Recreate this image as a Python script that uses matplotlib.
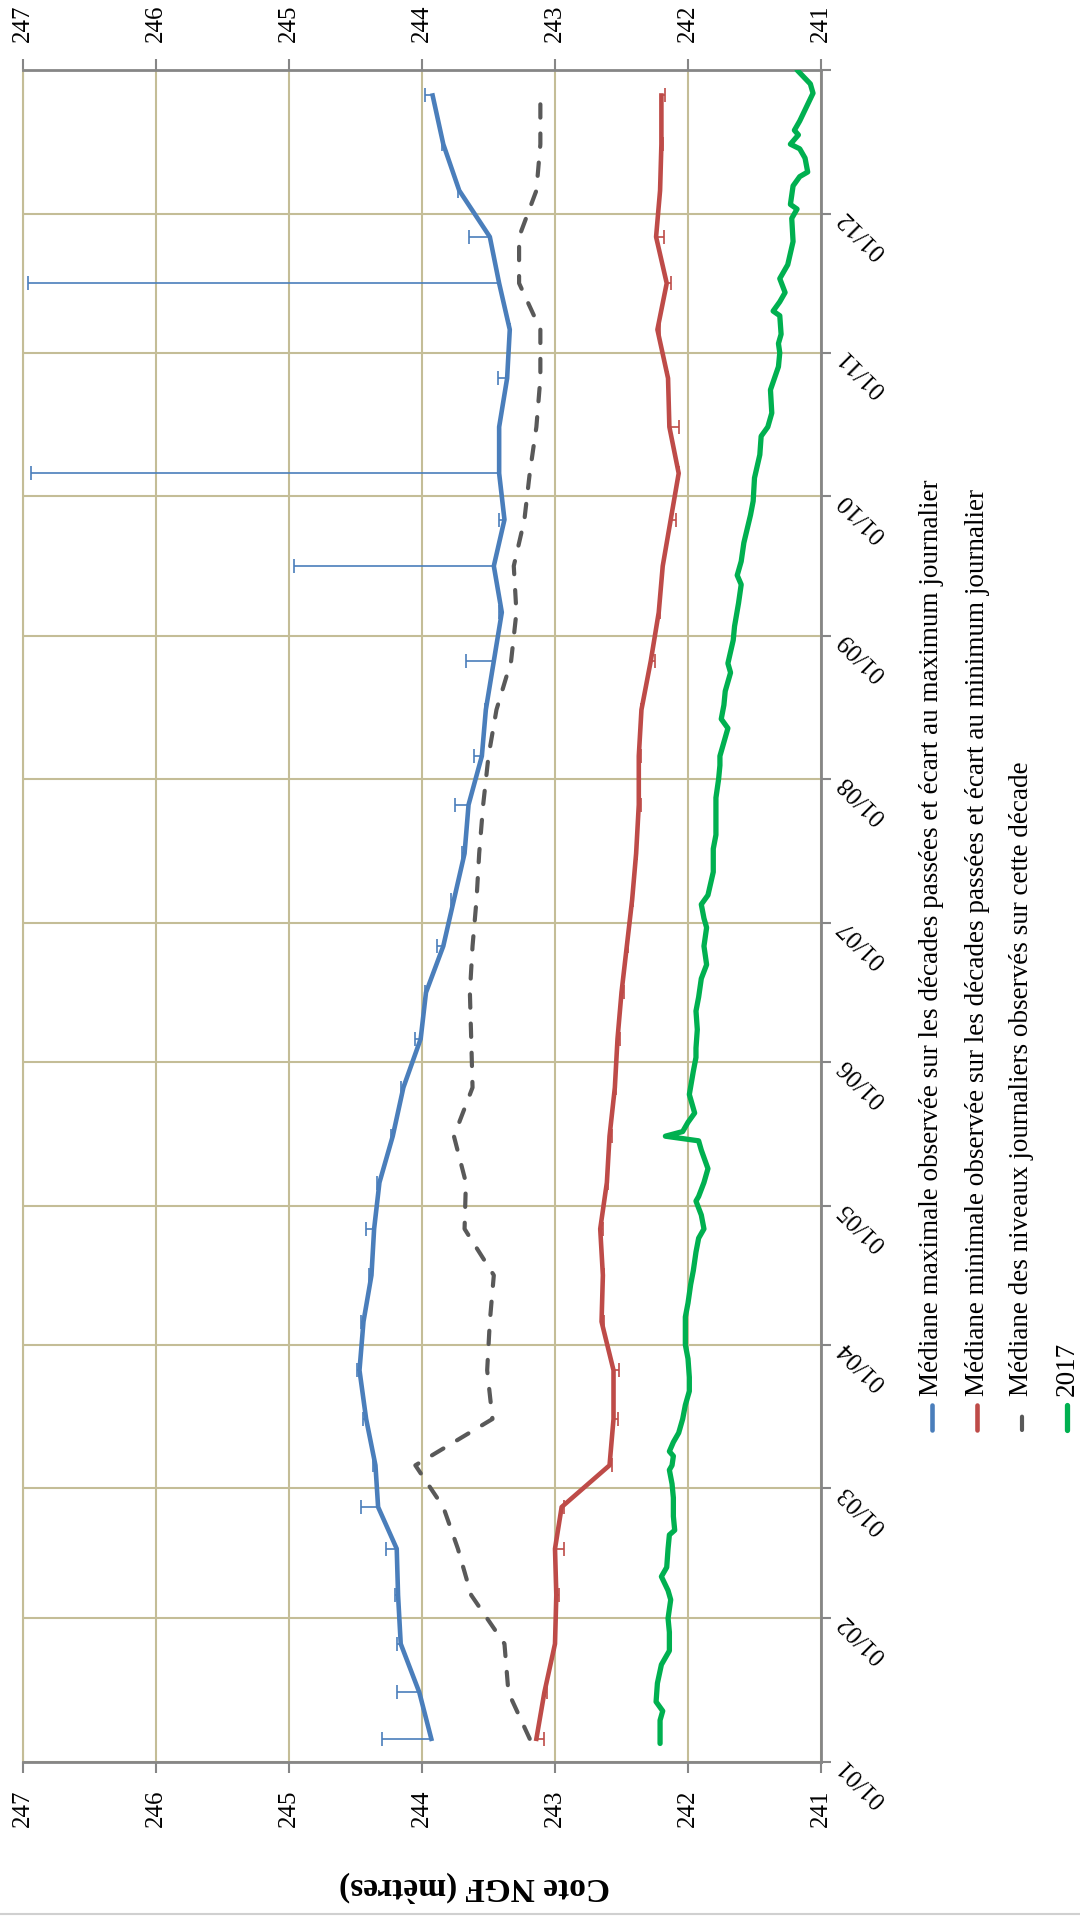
import numpy as np
import matplotlib.pyplot as plt
from matplotlib.lines import Line2D

# calendar (x axis of the original chart, drawn vertically here)
month_labels = ['01/01', '01/02', '01/03', '01/04', '01/05', '01/06',
                '01/07', '01/08', '01/09', '01/10', '01/11', '01/12']
month_lengths = [31, 28, 31, 30, 31, 30, 31, 31, 30, 31, 30, 31]

# decade medians (36 decades)
max_median = [243.93, 244.02, 244.16, 244.18, 244.19, 244.33, 244.35, 244.42, 244.47,
              244.44, 244.38, 244.36, 244.32, 244.22, 244.14, 244.01, 243.97, 243.84,
              243.76, 243.68, 243.65, 243.55, 243.52, 243.46, 243.40, 243.46, 243.38,
              243.42, 243.42, 243.36, 243.34, 243.42, 243.49, 243.72, 243.84, 243.92]
max_err = [0.37, 0.17, 0.03, 0.02, 0.08, 0.13, 0.02, 0.02, 0.02,
           0.02, 0.02, 0.06, 0.02, 0.01, 0.02, 0.04, 0.01, 0.05,
           0.02, 0.02, 0.10, 0.06, 0.01, 0.21, 0.02, 1.50, 0.04,
           3.52, 0.00, 0.07, 0.00, 3.54, 0.16, 0.01, 0.01, 0.06]
min_median = [243.14, 243.08, 243.00, 242.99, 243.00, 242.95, 242.59, 242.56, 242.56,
              242.65, 242.64, 242.66, 242.61, 242.59, 242.55, 242.53, 242.50, 242.46,
              242.42, 242.39, 242.37, 242.37, 242.35, 242.28, 242.22, 242.19, 242.13,
              242.07, 242.14, 242.15, 242.23, 242.16, 242.24, 242.21, 242.20, 242.20]
min_err = [0.06, 0.02, 0.00, 0.02, 0.07, 0.02, 0.02, 0.03, 0.04,
           0.02, 0.01, 0.02, 0.01, 0.02, 0.01, 0.02, 0.02, 0.01,
           0.01, 0.01, 0.02, 0.02, 0.00, 0.03, 0.01, 0.00, 0.04,
           0.00, 0.07, 0.00, 0.02, 0.03, 0.06, 0.00, 0.01, 0.03]
median = [243.19, 243.35, 243.38, 243.63, 243.73, 243.84, 244.05, 243.47, 243.51,
          243.49, 243.46, 243.68, 243.67, 243.76, 243.62, 243.63, 243.64, 243.62,
          243.59, 243.57, 243.54, 243.50, 243.44, 243.33, 243.29, 243.31, 243.23,
          243.19, 243.14, 243.11, 243.11, 243.27, 243.27, 243.14, 243.11, 243.11]

# 2017 daily levels (day of year, level)
days_2017 = [4, 6, 9, 11, 13, 17, 21, 24, 28, 31, 35, 37, 40, 42, 46, 49, 50, 53, 56,
             57, 60, 63, 64, 66, 67, 69, 71, 74, 77, 80, 83, 87, 90, 93, 96, 99, 103,
             106, 110, 113, 115, 118, 121, 122, 125, 128, 132, 134, 135, 136, 138, 140,
             144, 149, 152, 154, 158, 162, 165, 169, 172, 176, 180, 182, 185, 187, 192,
             197, 200, 205, 208, 212, 215, 217, 220, 223, 225, 228, 231, 235, 237, 242,
             245, 250, 254, 256, 259, 263, 269, 272, 277, 282, 286, 288, 291, 296, 301,
             304, 306, 308, 312, 313, 315, 317, 320, 323, 328, 333, 335, 336, 340, 342,
             343, 346, 348, 349, 351, 352, 354, 357, 360, 362, 365]
level_2017 = [242.21, 242.21, 242.21, 242.19, 242.24, 242.23, 242.20, 242.14, 242.14,
              242.15, 242.13, 242.15, 242.20, 242.16, 242.15, 242.14, 242.10, 242.11,
              242.11, 242.11, 242.12, 242.14, 242.12, 242.11, 242.14, 242.11, 242.07,
              242.04, 242.02, 241.99, 241.99, 242.00, 242.02, 242.02, 242.02, 242.00,
              241.98, 241.96, 241.94, 241.92, 241.88, 241.90, 241.94, 241.92, 241.88,
              241.85, 241.90, 241.92, 242.17, 242.04, 242.00, 241.95, 241.99, 241.96,
              241.94, 241.94, 241.93, 241.94, 241.92, 241.90, 241.86, 241.88, 241.86,
              241.88, 241.90, 241.85, 241.81, 241.81, 241.79, 241.79, 241.79, 241.77,
              241.76, 241.76, 241.73, 241.70, 241.75, 241.73, 241.72, 241.68, 241.70,
              241.66, 241.65, 241.62, 241.60, 241.63, 241.60, 241.58, 241.53, 241.51,
              241.50, 241.46, 241.45, 241.40, 241.37, 241.38, 241.32, 241.31, 241.32,
              241.30, 241.31, 241.36, 241.31, 241.27, 241.31, 241.25, 241.21, 241.22,
              241.18, 241.23, 241.21, 241.16, 241.10, 241.12, 241.16, 241.23, 241.17,
              241.20, 241.16, 241.11, 241.06, 241.08, 241.18]

legend_labels = ['Médiane maximale observée sur les décades passées et écart au maximum journalier',
                 'Médiane minimale observée sur les décades passées et écart au minimum journalier',
                 'Médiane des niveaux journaliers observés sur cette décade',
                 '2017']

blue = '#4a7ebb'
red = '#be4b48'
grey = '#595959'
green = '#00b050'
grid_col = '#c4bd97'
axis_col = '#868686'

plt.rcParams['font.family'] = ['Liberation Serif', 'DejaVu Serif']

month_starts = np.concatenate([[0], np.cumsum(month_lengths)[:-1]])
decade_days = np.array([s + o for s, n in zip(month_starts, month_lengths)
                        for o in (5, 15, 20 + (n - 20) / 2)])
zeros = np.zeros(len(decade_days))

W, H = 1080, 1916
fig = plt.figure(figsize=(W / 100, H / 100), dpi=100)
ax = fig.add_axes([23 / W, 154 / H, 798 / W, 1692 / H])


def one_sided(vals, err_lo, err_hi, color):
    eb = ax.errorbar(vals, decade_days, xerr=[err_lo, err_hi], fmt='none',
                     ecolor=color, elinewidth=1.2, capsize=5, capthick=1.2, zorder=2)
    # hide the caps sitting on the line itself
    for cap in eb[1]:
        if np.allclose(cap.get_xdata(), vals):
            cap.set_visible(False)


one_sided(max_median, zeros, max_err, blue)
ax.plot(max_median, decade_days, color=blue, lw=3.3, solid_joinstyle='round', zorder=3)
one_sided(min_median, min_err, zeros, red)
ax.plot(min_median, decade_days, color=red, lw=3.3, solid_joinstyle='round', zorder=3)
ax.plot(median, decade_days, color=grey, lw=3, dashes=(3.2, 3.8),
        dash_capstyle='round', zorder=3)
ax.plot(level_2017, days_2017, color=green, lw=3.8, solid_joinstyle='round',
        solid_capstyle='round', zorder=4)

ax.set_xlim(247, 241)
ax.set_ylim(0, 365)

ax.set_xticks(range(241, 248))
ax.set_xticklabels([str(v) for v in range(241, 248)])
ax.xaxis.set_ticks_position('both')
ax.tick_params(axis='x', top=True, bottom=True, labeltop=True, labelbottom=True,
               direction='out', length=8, width=1.5, color=axis_col,
               labelsize=18, pad=12, labelrotation=90)

ax.set_yticks(list(month_starts) + [365])
ax.set_yticklabels(month_labels + [''])
ax.yaxis.set_ticks_position('right')
ax.tick_params(axis='y', right=True, left=False, labelright=True, labelleft=False,
               direction='out', length=7, width=1.5, color=axis_col,
               labelsize=18, pad=8)
for lbl in ax.get_yticklabels():
    lbl.set_rotation(135)
    lbl.set_rotation_mode('anchor')
    lbl.set_ha('right')
    lbl.set_va('center')

ax.grid(True, color=grid_col, lw=1.5)
ax.set_axisbelow(True)
for side in ('top', 'bottom', 'right'):
    ax.spines[side].set_color(axis_col)
    ax.spines[side].set_linewidth(2)
ax.spines['left'].set_color(grid_col)
ax.spines['left'].set_linewidth(1.5)

fig.text(475 / W, 1 - 1887 / H, 'Cote NGF (mètres)', rotation=180,
         ha='center', va='center', fontsize=24, fontweight='bold')

# legend, turned with the chart
styles = [dict(color=blue, lw=3.3), dict(color=red, lw=3.3),
          dict(color=grey, lw=3, dashes=(3.2, 3.8), dash_capstyle='round'),
          dict(color=green, lw=3.8)]
for i, (lab, st) in enumerate(zip(legend_labels, styles)):
    x = (932 + 45 * i) / W
    fig.add_artist(Line2D([x, x], [1 - 1430 / H, 1 - 1405 / H], solid_capstyle='round', **st))
    fig.text(x, 1 - 1396 / H, lab, rotation=90, rotation_mode='anchor',
             ha='left', va='center', fontsize=19.5)

fig.add_artist(Line2D([0, 1], [0.0008, 0.0008], color='#d0d0d0', lw=1.5))

fig.savefig('out.png', dpi=100)
